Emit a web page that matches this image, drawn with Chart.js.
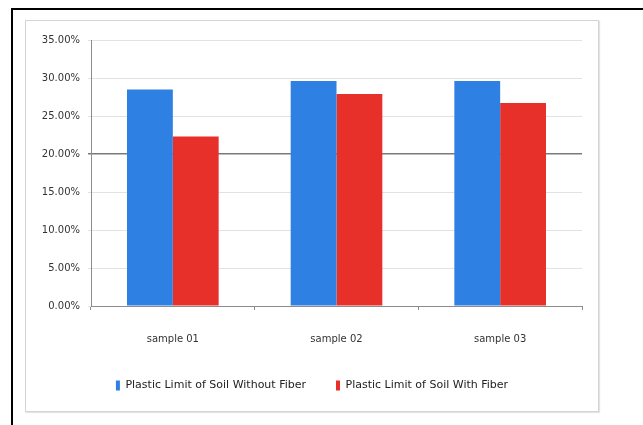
<!DOCTYPE html>
<html>
<head>
<meta charset="utf-8">
<script src="https://cdn.jsdelivr.net/npm/chart.js@4"></script>
<style>
  html, body { margin: 0; padding: 0; background: #fff; width: 643px; height: 425px; overflow: hidden; }
  #frame { position: absolute; left: 11px; top: 8px; width: 700px; height: 500px; border: 2px solid #000; }
  #box { position: absolute; left: 25px; top: 20px; width: 572px; height: 390px; border: 1px solid #d4d4d4; box-shadow: 1px 1px 1px #e4e4e4; }
  #wrap { position: absolute; left: 0; top: 0; }
</style>
</head>
<body>
<div id="frame"></div>
<div id="box"></div>
<div id="wrap"><canvas id="chart" width="643" height="425"></canvas></div>
<script>
var categories = ['sample 01', 'sample 02', 'sample 03'];
var withoutFiber = [28.5, 29.6, 29.6];
var withFiber = [22.3, 27.9, 26.7];
var seriesNames = ['Plastic Limit of Soil Without Fiber', 'Plastic Limit of Soil With Fiber'];
var yTicks = [0, 5, 10, 15, 20, 25, 30, 35];

function prepareChart() {
    var ctx = document.getElementById('chart').getContext('2d');
    window.chart = new Chart(ctx, {
        type: 'bar',
        data: {
            labels: categories,
            datasets: [{
                label: seriesNames[0],
                data: withoutFiber,
                backgroundColor: '#2e80e2',
                barPercentage: 1,
                categoryPercentage: 0.56
            }, {
                label: seriesNames[1],
                data: withFiber,
                backgroundColor: '#e8302a',
                barPercentage: 1,
                categoryPercentage: 0.56
            }]
        },
        options: {
            responsive: false,
            animation: false,
            layout: {
                padding: { left: 42, right: 61, top: 40, bottom: 24 }
            },
            plugins: {
                tooltip: { enabled: false },
                legend: {
                    position: 'bottom',
                    labels: {
                        boxWidth: 4,
                        boxHeight: 10,
                        padding: 30,
                        color: '#222',
                        font: { family: 'DejaVu Sans', size: 11 }
                    }
                }
            },
            scales: {
                x: {
                    grid: {
                        drawOnChartArea: false,
                        drawTicks: true,
                        tickLength: 4,
                        color: '#8c8c8c'
                    },
                    border: { color: '#8c8c8c', width: 1 },
                    ticks: {
                        color: '#333',
                        padding: 23,
                        font: { family: 'DejaVu Sans', size: 10 }
                    },
                    afterFit: function (scale) { scale.height = 44; }
                },
                y: {
                    min: 0,
                    max: 35,
                    afterBuildTicks: function (scale) {
                        scale.ticks = yTicks.map(function (v) { return { value: v }; });
                    },
                    grid: {
                        tickLength: 3,
                        color: function (c) {
                            return c.tick && c.tick.value === 20 ? '#7a7a7a' : '#e2e2e2';
                        },
                        lineWidth: function (c) {
                            return c.tick && c.tick.value === 20 ? 1.5 : 1;
                        }
                    },
                    border: { color: '#8c8c8c', width: 1 },
                    ticks: {
                        color: '#333',
                        padding: 8,
                        font: { family: 'DejaVu Sans', size: 10 },
                        callback: function (v) { return v.toFixed(2) + '%'; }
                    },
                    afterFit: function (scale) { scale.width = 49; }
                }
            }
        }
    });
}
prepareChart();
</script>
</body>
</html>
